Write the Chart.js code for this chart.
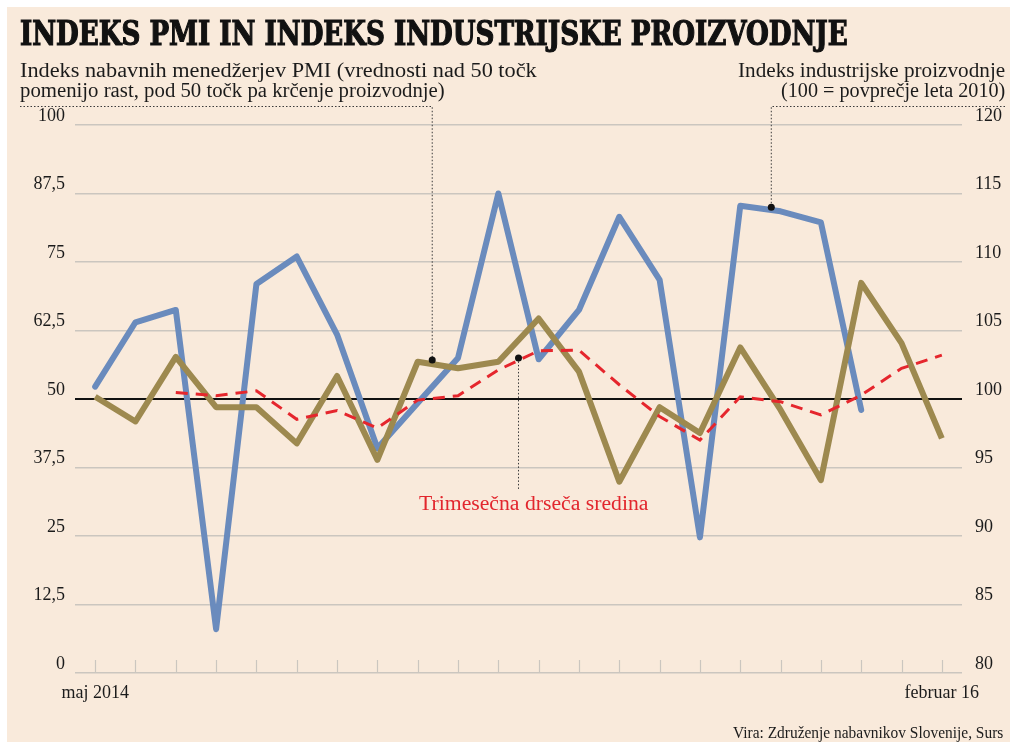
<!DOCTYPE html>
<html>
<head>
<meta charset="utf-8">
<script src="https://cdn.jsdelivr.net/npm/chart.js@4"></script>
<style>
  html, body { margin: 0; padding: 0; background: #fff; }
  #wrap { position: relative; width: 1010px; height: 743px; overflow: hidden; }
  #bg { position: absolute; left: 7px; top: 7px; right: 0; bottom: 1px; background: #f9eadb; }
  #chart { position: absolute; left: 0; top: 0; }
  .txt { position: absolute; white-space: nowrap; line-height: 1; color: #1b1b1b; }
  .serif { font-family: "Liberation Serif", "DejaVu Serif", serif; }
</style>
</head>
<body>
<div id="wrap">
  <div id="bg"></div>
  <canvas id="chart" width="1010" height="743"></canvas>
  <div class="txt" id="title" data-w="828" data-origin="left"
       style="left:20px; top:13px; font: bold 34px 'DejaVu Serif Condensed', 'DejaVu Serif', serif; color:#111; -webkit-text-stroke: 1.2px #111;">INDEKS PMI IN INDEKS INDUSTRIJSKE PROIZVODNJE</div>
  <div class="txt serif" data-w="517" data-origin="left" style="left:20px; top:60px; font-size:20px;">Indeks nabavnih menedžerjev PMI (vrednosti nad 50 točk</div>
  <div class="txt serif" data-w="425" data-origin="left" style="left:20px; top:80px; font-size:20px;">pomenijo rast, pod 50 točk pa krčenje proizvodnje)</div>
  <div class="txt serif" data-w="267" data-origin="right" style="right:5px; top:60px; font-size:20px;">Indeks industrijske proizvodnje</div>
  <div class="txt serif" data-w="224" data-origin="right" style="right:5px; top:80px; font-size:20px;">(100 = povprečje leta 2010)</div>
  <div class="txt serif" data-w="229" data-origin="left" style="left:419px; top:493px; font-size:20px; color:#e2262d;">Trimesečna drseča sredina</div>
  <div class="txt serif" data-w="270" data-origin="right" style="right:7px; top:725px; font-size:16px;">Vira: Združenje nabavnikov Slovenije, Surs</div>
</div>
<script>
// months May 2014 .. Feb 2016
const categories = [
  "maj 2014", "jun 2014", "jul 2014", "avg 2014", "sep 2014", "okt 2014",
  "nov 2014", "dec 2014", "jan 2015", "feb 2015", "mar 2015", "apr 2015",
  "maj 2015", "jun 2015", "jul 2015", "avg 2015", "sep 2015", "okt 2015",
  "nov 2015", "dec 2015", "jan 2016", "februar 16",
];

// PMI (left axis)
const pmi = [
  50.4, 45.9, 57.7, 48.5, 48.5, 41.9, 54.2, 38.9, 56.8, 55.6, 56.8,
  64.7, 55.0, 34.9, 48.5, 43.8, 59.4, 48.0, 35.2, 71.2, 60.2, 42.8,
];

// trimesečna drseča sredina
const pmiAvg = [
  null, null, 51.2, 50.6, 51.5, 46.3, 47.9, 44.7, 49.8, 50.6, 55.3,
  58.8, 58.9, 52.6, 46.8, 42.5, 50.4, 49.5, 47.1, 50.7, 55.6, 58.0,
];

// industrijska proizvodnja (right axis), no data for the last two months
const industry = [
  100.9, 105.6, 106.5, 83.2, 108.4, 110.4, 104.7, 96.4, 99.7, 103.0, 115.0,
  102.9, 106.5, 113.3, 108.7, 89.9, 114.1, 113.7, 112.9, 99.2, null, null,
];

// callout dots: [category position, value]
const pmiCallout = [8.36, 57.1];
const avgCallout = [10.5, 57.5];
const industryCallout = [16.77, 114.0];

const gridGray = "#cbc6bf";
const tickFont = { family: "Liberation Serif", size: 18 };

// little tick marks standing on the bottom line + the dotted callouts
const extras = {
  id: "extras",
  beforeDatasetsDraw(chart) {
    const { ctx, chartArea, scales } = chart;
    ctx.save();
    ctx.strokeStyle = gridGray;
    ctx.lineWidth = 1.2;
    scales.x.ticks.forEach((t, i) => {
      const px = Math.round(scales.x.getPixelForTick(i)) + 0.5;
      ctx.beginPath();
      ctx.moveTo(px, chartArea.bottom - 13);
      ctx.lineTo(px, chartArea.bottom);
      ctx.stroke();
    });
    ctx.restore();
  },
  afterDatasetsDraw(chart) {
    const { ctx, scales } = chart;
    const { x, yL, yR } = scales;
    const dot = (px, py) => {
      ctx.setLineDash([]);
      ctx.beginPath();
      ctx.arc(px, py, 3.5, 0, Math.PI * 2);
      ctx.fill();
    };
    ctx.save();
    ctx.strokeStyle = "#3a3a3a";
    ctx.fillStyle = "#111";
    ctx.lineWidth = 1;
    ctx.setLineDash([1.5, 2]);

    const lx = x.getPixelForValue(pmiCallout[0]);
    const ly = yL.getPixelForValue(pmiCallout[1]);
    ctx.beginPath();
    ctx.moveTo(20, 106.5);
    ctx.lineTo(lx, 106.5);
    ctx.lineTo(lx, ly);
    ctx.stroke();
    dot(lx, ly);

    ctx.setLineDash([1.5, 2]);
    const rx = x.getPixelForValue(industryCallout[0]);
    const ry = yR.getPixelForValue(industryCallout[1]);
    ctx.beginPath();
    ctx.moveTo(1005, 106.5);
    ctx.lineTo(rx, 106.5);
    ctx.lineTo(rx, ry);
    ctx.stroke();
    dot(rx, ry);

    ctx.setLineDash([1.5, 2]);
    const mx = x.getPixelForValue(avgCallout[0]);
    const my = yL.getPixelForValue(avgCallout[1]);
    ctx.beginPath();
    ctx.moveTo(mx, my);
    ctx.lineTo(mx, 489);
    ctx.stroke();
    dot(mx, my);
    ctx.restore();
  },
};

const canvas = document.getElementById("chart");
const pmiChart = new Chart(canvas, {
  type: "line",
  data: {
    labels: categories,
    datasets: [
      {
        label: "Trimesečna drseča sredina",
        data: pmiAvg,
        yAxisID: "yL",
        borderColor: "#e5262d",
        borderWidth: 3,
        borderDash: [12, 8],
        pointRadius: 0,
        tension: 0,
      },
      {
        label: "Indeks PMI",
        data: pmi,
        yAxisID: "yL",
        borderColor: "#9d894f",
        borderWidth: 6,
        borderJoinStyle: "round",
        pointRadius: 0,
        tension: 0,
      },
      {
        label: "Indeks industrijske proizvodnje",
        data: industry,
        yAxisID: "yR",
        borderColor: "#6a8bbd",
        borderWidth: 6,
        borderJoinStyle: "round",
        borderCapStyle: "round",
        pointRadius: 0,
        tension: 0,
        spanGaps: false,
      },
    ],
  },
  options: {
    responsive: false,
    animation: false,
    layout: { padding: { top: 125, left: 0, right: 0, bottom: 0 } },
    plugins: {
      legend: { display: false },
      tooltip: { enabled: false },
    },
    scales: {
      x: {
        offset: true,
        grid: { display: false, drawTicks: false },
        border: { display: false },
        ticks: {
          autoSkip: false,
          maxRotation: 0,
          padding: 9,
          color: "#1b1b1b",
          font: tickFont,
          callback: (v, i) =>
            i === 0 || i === categories.length - 1 ? categories[i] : "",
        },
        afterFit: (s) => {
          s.height = 70;
        },
      },
      yL: {
        position: "left",
        min: 0,
        max: 100,
        border: { display: false },
        grid: {
          drawTicks: false,
          color: (c) => (c.tick && c.tick.value === 50 ? "#111" : gridGray),
          lineWidth: (c) => (c.tick && c.tick.value === 50 ? 2 : 1.5),
        },
        ticks: {
          stepSize: 12.5,
          padding: 10,
          labelOffset: -9,
          color: "#1b1b1b",
          font: tickFont,
          callback: (v) => String(v).replace(".", ","),
        },
        afterFit: (s) => {
          s.width = 75;
        },
      },
      yR: {
        position: "right",
        min: 80,
        max: 120,
        border: { display: false },
        grid: { display: false, drawTicks: false },
        ticks: {
          stepSize: 5,
          padding: 13,
          labelOffset: -9,
          color: "#1b1b1b",
          font: tickFont,
        },
        afterFit: (s) => {
          s.width = 48;
        },
      },
    },
  },
  plugins: [extras],
});

// squeeze the header texts to the widths of the original
document.querySelectorAll("[data-w]").forEach((el) => {
  const k = Number(el.dataset.w) / el.offsetWidth;
  el.style.transformOrigin = el.dataset.origin + " top";
  el.style.transform = `scaleX(${k})`;
});
</script>
</body>
</html>
